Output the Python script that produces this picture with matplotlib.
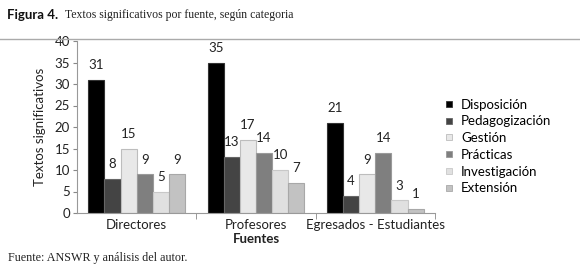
import matplotlib
matplotlib.use("Agg")
import matplotlib.pyplot as plt
import numpy as np
from matplotlib.lines import Line2D

groups = ["Directores", "Profesores", "Egresados - Estudiantes"]
series = ["Disposición", "Pedagogización", "Gestión", "Prácticas", "Investigación", "Extensión"]
disposicion = [31, 35, 21]
pedagogizacion = [8, 13, 4]
gestion = [15, 17, 9]
practicas = [9, 14, 14]
investigacion = [5, 10, 3]
extension = [9, 7, 1]
values = [disposicion, pedagogizacion, gestion, practicas, investigacion, extension]
colors = ["#000000", "#444444", "#e8e8e8", "#7f7f7f", "#e0e0e0", "#c2c2c2"]
edges = ["#333333", "#666666", "#bdbdbd", "#9a9a9a", "#c8c8c8", "#a8a8a8"]

sans = ["Lato", "DejaVu Sans"]
serif = ["Liberation Serif", "DejaVu Serif"]
plt.rcParams['font.family'] = sans
fs = 9.5

fig = plt.figure(figsize=(5.8, 2.69), dpi=100)
ax = fig.add_axes([77/580, 1-213/269, (435-77)/580, (213-41)/269])

n = len(series)
w = 0.135
x = np.arange(len(groups))
for i, (vals, c, e) in enumerate(zip(values, colors, edges)):
    pos = x + (i - (n-1)/2) * w
    ax.bar(pos, vals, width=w, color=c, edgecolor=e, linewidth=0.8)
    for p, v in zip(pos, vals):
        ax.text(p, v + 2.0, str(v), ha="center", va="bottom", fontsize=fs, color="#222222")

ax.set_xlim(-0.5, 2.5)
ax.set_ylim(0, 40)
ax.set_yticks(range(0, 41, 5))
ax.tick_params(axis="y", labelsize=fs, length=3, color="#888888", pad=2, labelcolor="#222222")
ax.set_xticks(x)
ax.set_xticklabels(groups, fontsize=fs, color="#222222")
ax.tick_params(axis="x", length=0, pad=4)
ax.set_xticks([0.5, 1.5, 2.5], minor=True)
ax.tick_params(axis="x", which="minor", length=4, color="#888888")
for s in ["top", "right"]:
    ax.spines[s].set_visible(False)
for s in ["left", "bottom"]:
    ax.spines[s].set_color("#999999")
    ax.spines[s].set_linewidth(0.8)
ax.set_ylabel("Textos significativos", fontsize=fs, color="#222222", labelpad=6)
ax.set_xlabel("Fuentes", fontsize=fs, fontweight="bold", color="#222222", labelpad=2)

handles = [Line2D([0], [0], marker="s", linestyle="none", markersize=5,
                  markerfacecolor=c, markeredgecolor=e, markeredgewidth=0.6)
           for c, e in zip(colors, edges)]
fig.legend(handles, series, loc="upper left", bbox_to_anchor=(436/580, 1-92/269),
           frameon=False, fontsize=fs, handletextpad=0.4, labelspacing=0.36,
           handlelength=1.0, borderpad=0)

fig.text(7/580, 1-15/269, "Figura 4.", fontsize=9.5, fontweight="bold",
         family=sans, va="center", ha="left", color="#111111")
fig.text(65/580, 1-15/269, "Textos significativos por fuente, según categoria", fontsize=8.5,
         family=serif, va="center", ha="left", color="#222222")
fig.add_artist(Line2D([0, 1], [1-39/269, 1-39/269], color="#aaaaaa", linewidth=1.0))
fig.text(8/580, 1-258/269, "Fuente: ANSWR y análisis del autor.", fontsize=8.7,
         family=serif, va="center", ha="left", color="#222222")

fig.savefig("out.png", dpi=100)
